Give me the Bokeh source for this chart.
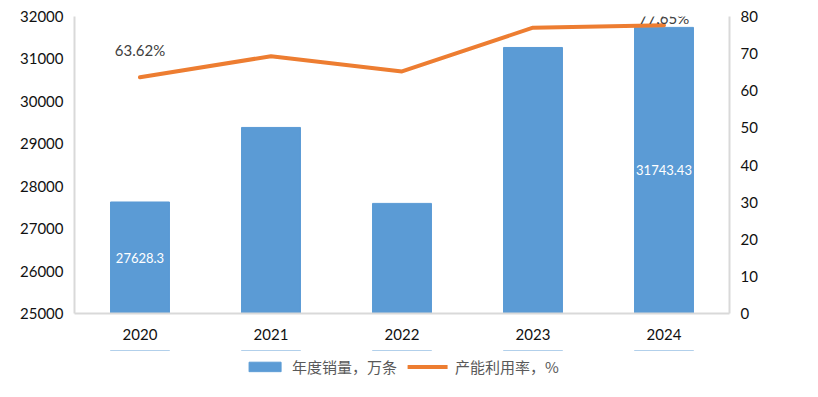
from bokeh.plotting import figure
from bokeh.layouts import column
from bokeh.models import (Range1d, LinearAxis, FactorRange, Legend, LegendItem, ColumnDataSource,
                          SingleIntervalTicker, BoxAnnotation)
from bokeh.core.properties import value
from bokeh.embed import file_html
from bokeh.resources import INLINE

years = ["2020", "2021", "2022", "2023", "2024"]
sales = [27628.3, 29385, 27595, 31270, 31743.43]
util = [63.62, 69.3, 65.2, 77.0, 77.65]
sales_name = "年度销量，万条"
util_name = "产能利用率，%"
sales_label_idx = [0, 4]
util_label_idx = [0, 4]

BAR_COLOR = "#5B9BD5"
LINE_COLOR = "#ED7D31"
BASE = 25000
src = ColumnDataSource(dict(year=years, sales=sales, util=util))

p = figure(x_range=FactorRange(*years), y_range=Range1d(25000, 32000),
           width=818, height=350, output_backend="svg", toolbar_location=None,
           min_border_left=74, min_border_right=89, min_border_top=16, min_border_bottom=37)
p.extra_y_ranges = {"pct": Range1d(0, 80)}
p.add_layout(LinearAxis(y_range_name="pct", ticker=SingleIntervalTicker(interval=10)), "right")
p.yaxis[0].ticker = SingleIntervalTicker(interval=1000)

p.xgrid.visible = False
p.ygrid.visible = False
p.outline_line_color = None
p.background_fill_color = "white"
p.border_fill_color = "white"

for ax in p.axis:
    ax.axis_line_color = "#d9d9d9"
    ax.axis_line_width = 2
    ax.major_tick_line_color = None
    ax.minor_tick_line_color = None
    ax.major_tick_out = 0
    ax.major_tick_in = 0
    ax.minor_tick_out = 0
    ax.minor_tick_in = 0
    ax.major_label_text_font = "Lato"
    ax.major_label_text_font_size = "15px"
    ax.major_label_text_color = "#111111"
    ax.major_label_standoff = 11
p.xaxis.major_label_standoff = 15

bars = p.vbar(x="year", top="sales", bottom=BASE, width=0.45, color=BAR_COLOR, source=src)
line = p.line(x="year", y="util", y_range_name="pct", color=LINE_COLOR, line_width=4,
              line_cap="round", line_join="round", source=src)

# bar labels at mid-height
bl = ColumnDataSource(dict(x=[years[i] for i in sales_label_idx],
                           y=[(BASE + sales[i]) / 2 for i in sales_label_idx],
                           t=[str(sales[i]) for i in sales_label_idx]))
p.text(x="x", y="y", text="t", source=bl, text_color="white", text_font=value("Lato"),
       text_font_size="13px", text_align="center", text_baseline="middle")

ul = ColumnDataSource(dict(x=[years[i] for i in util_label_idx],
                           y=[util[i] for i in util_label_idx],
                           t=[f"{util[i]:.2f}%" for i in util_label_idx],
                           off=[-27, -7]))
p.text(x="x", y="y", text="t", y_offset="off", source=ul, y_range_name="pct", text_color="#404040",
       text_font=value("Lato"), text_font_size="15px", text_align="center", text_baseline="middle")

# legend strip below the chart (its renderers are hidden under a white box)
lg = figure(width=818, height=32, output_backend="svg", toolbar_location=None,
            x_range=FactorRange(*years), y_range=Range1d(0, 1), x_axis_type=None, y_axis_type=None,
            min_border=0)
lg.xgrid.visible = False
lg.ygrid.visible = False
lg.outline_line_color = None
lg_bar = lg.vbar(x="year", top="sales", bottom=BASE, width=0.45, color=BAR_COLOR, source=src,
                 level="underlay")
lg_line = lg.line(x="year", y="util", color=LINE_COLOR, line_width=4, line_cap="round", source=src,
                  level="underlay")
lg.add_layout(BoxAnnotation(fill_color="white", fill_alpha=1.0, line_color=None, level="glyph"))

legend = Legend(items=[LegendItem(label=sales_name, renderers=[lg_bar]),
                       LegendItem(label=util_name, renderers=[lg_line])],
                orientation="horizontal", location="center")
legend.label_text_font = "Noto Sans CJK SC"
legend.label_text_font_size = "15px"
legend.label_text_color = "#595959"
legend.glyph_width = 40
legend.glyph_height = 12
legend.label_standoff = 8
legend.padding = 0
legend.margin = 0
legend.spacing = 10
legend.border_line_color = None
legend.background_fill_alpha = 0
lg.add_layout(legend, "center")

layout = column(p, lg, spacing=0)
open("out.html", "w").write(file_html(layout, INLINE))
